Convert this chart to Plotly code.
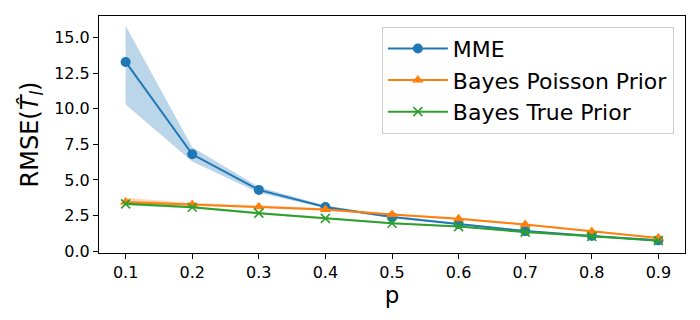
import plotly.graph_objects as go

p = [0.1, 0.2, 0.3, 0.4, 0.5, 0.6, 0.7, 0.8, 0.9]

mme = [13.3, 6.8, 4.3, 3.1, 2.4, 1.9, 1.4, 1.05, 0.75]
mme_lo = [10.3, 6.3, 4.1, 3.0, 2.32, 1.83, 1.34, 1.0, 0.7]
mme_hi = [15.85, 7.3, 4.5, 3.2, 2.48, 1.97, 1.46, 1.1, 0.8]

bayes_pois = [3.45, 3.28, 3.12, 2.92, 2.56, 2.27, 1.86, 1.38, 0.92]
bayes_pois_lo = [3.25, 3.18, 3.03, 2.84, 2.49, 2.2, 1.8, 1.33, 0.88]
bayes_pois_hi = [3.75, 3.38, 3.21, 3.0, 2.63, 2.34, 1.92, 1.43, 0.96]

bayes_true = [3.32, 3.08, 2.66, 2.3, 1.95, 1.72, 1.33, 1.03, 0.73]
bayes_true_lo = [3.2, 3.0, 2.58, 2.23, 1.89, 1.67, 1.28, 0.99, 0.7]
bayes_true_hi = [3.44, 3.16, 2.74, 2.37, 2.01, 1.77, 1.38, 1.07, 0.76]

series = [
    ("MME", mme, mme_lo, mme_hi, "#1f77b4", "rgba(31,119,180,0.3)", "circle", 10, 0),
    ("Bayes Poisson Prior", bayes_pois, bayes_pois_lo, bayes_pois_hi, "#ff7f0e", "rgba(255,127,14,0.3)", "triangle-up", 10, 0),
    ("Bayes True Prior", bayes_true, bayes_true_lo, bayes_true_hi, "#2ca02c", "rgba(44,160,44,0.3)", "x-thin", 9, 1.6),
]

fig = go.Figure()
for name, vals, lo, hi, col, fcol, sym, msz, mlw in series:
    fig.add_trace(go.Scatter(x=p, y=lo, mode="lines", line=dict(width=0, color=fcol),
                             showlegend=False, hoverinfo="skip"))
    fig.add_trace(go.Scatter(x=p, y=hi, mode="lines", line=dict(width=0, color=fcol),
                             fill="tonexty", fillcolor=fcol, showlegend=False, hoverinfo="skip"))
for name, vals, lo, hi, col, fcol, sym, msz, mlw in series:
    marker = dict(symbol=sym, size=msz, color=col)
    if mlw:
        marker["line"] = dict(width=mlw, color=col)
    fig.add_trace(go.Scatter(x=p, y=vals, mode="lines+markers", name=name,
                             line=dict(color=col, width=2), marker=marker))

axis_common = dict(showline=True, mirror=True, linecolor="black", linewidth=1,
                   ticks="outside", ticklen=5, tickwidth=1, tickcolor="black",
                   showgrid=False, zeroline=False, automargin=False,
                   tickfont=dict(family="DejaVu Sans", size=16, color="black"))

fig.update_xaxes(range=[0.06, 0.94], tickvals=p, tickformat=".1f",
                 title=dict(text="p", font=dict(family="DejaVu Sans", size=23, color="black"), standoff=0),
                 **axis_common)
fig.update_yaxes(range=[-0.14, 16.53], tickvals=[0, 2.5, 5, 7.5, 10, 12.5, 15], tickformat=".1f",
                 title=dict(text="RMSE(<i>T\u0302</i><sub><i>l</i></sub>)",
                            font=dict(family="DejaVu Sans", size=24, color="black"), standoff=8),
                 **axis_common)

# page body has an 8px margin; figure is sized to fit the 700x320 window
fig.update_layout(
    width=692, height=312,
    margin=dict(l=91, r=15, t=8, b=67),
    paper_bgcolor="white", plot_bgcolor="white",
    font=dict(family="DejaVu Sans", color="black"),
    legend=dict(x=0.981, y=0.955, xanchor="right", yanchor="top", traceorder="normal",
                bgcolor="rgba(255,255,255,0.8)", bordercolor="#cccccc", borderwidth=1,
                font=dict(family="DejaVu Sans", size=22, color="black"),
                tracegroupgap=0, itemwidth=60),
    showlegend=True,
)

fig.write_html("out.html")
